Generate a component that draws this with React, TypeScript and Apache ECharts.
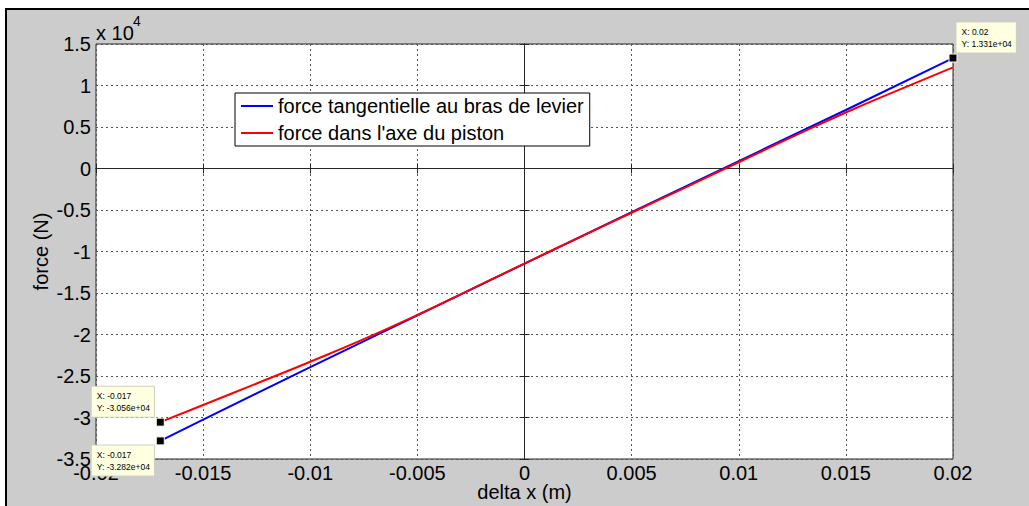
import React, { useEffect, useRef } from "react";
import * as echarts from "echarts";

const blueX = [-0.017, -0.015, -0.01, -0.005, 0, 0.005, 0.01, 0.015, 0.02];
const blueY = [-32820, -30250, -23920, -17700, -11470, -5250, 900, 7050, 13310];

const redX = [-0.017, -0.015, -0.0125, -0.01, -0.0075, -0.005, -0.0025, 0, 0.0025, 0.005, 0.0075, 0.01, 0.0125, 0.015, 0.0175, 0.02];
const redY = [-30560, -28490, -25900, -23280, -20560, -17650, -14560, -11450, -8380, -5330, -2300, 750, 3800, 6750, 9500, 12190];

const seriesNames = ["force tangentielle au bras de levier", "force dans l'axe du piston"];
const xTitle = "delta x (m)";
const yTitle = "force (N)";

const FONT = "Liberation Sans, Arial, sans-serif";

function tipLabel(text: string, position: number[]) {
  return {
    show: true,
    formatter: text,
    position,
    align: "left",
    verticalAlign: "top",
    backgroundColor: "#ffffe1",
    borderColor: "#d0d0c0",
    borderWidth: 1,
    padding: [4, 4, 3, 5],
    fontSize: 8.5,
    lineHeight: 11.5,
    fontFamily: FONT,
    color: "#000",
  };
}

export default function App() {
  const ref = useRef<HTMLDivElement>(null);
  useEffect(() => {
    if (!ref.current) return;
    const chart = echarts.init(ref.current, undefined, { renderer: "svg" });
    const fmtX = (v: number) => parseFloat(v.toFixed(4)).toString();
    const fmtY = (v: number) => parseFloat((v / 1e4).toFixed(2)).toString();
    const axisLine = { show: true, lineStyle: { color: "#262626", width: 1 } };
    const tick = { show: true, inside: true, length: 5, lineStyle: { color: "#262626" } };
    const grid = { show: true, lineStyle: { color: "#555", type: [2, 3], width: 1 } };
    const markerStyle = { color: "#000", borderColor: "#fffff0", borderWidth: 1 };
    chart.setOption({
      animation: false,
      backgroundColor: "#fff",
      textStyle: { fontFamily: FONT },
      graphic: [
        {
          type: "rect",
          z: -10,
          silent: true,
          shape: { x: 6, y: 9, width: 1040, height: 520 },
          style: { fill: "#cccccc", stroke: "#000", lineWidth: 2 },
        },
        {
          type: "text",
          left: 96,
          top: 23,
          style: { text: "x 10", font: "20px " + FONT, fill: "#000" },
        },
        {
          type: "text",
          left: 133,
          top: 14,
          style: { text: "4", font: "14px " + FONT, fill: "#000" },
        },
      ],
      grid: {
        left: 96,
        top: 44,
        width: 857,
        height: 415,
        outerBoundsMode: "none",
        containLabel: false,
        show: true,
        backgroundColor: "#fff",
        borderColor: "#262626",
        borderWidth: 1,
      },
      legend: {
        orient: "vertical",
        left: 235,
        top: 93,
        padding: [3, 6, 3, 6],
        itemGap: 7,
        itemWidth: 32,
        itemHeight: 2,
        icon: "rect",
        backgroundColor: "#fff",
        borderColor: "#000",
        borderWidth: 1,
        borderRadius: 0,
        textStyle: { fontSize: 20, color: "#000", fontFamily: FONT, lineHeight: 20 },
        data: seriesNames,
      },
      xAxis: [
        {
          type: "value",
          min: -0.02,
          max: 0.02,
          interval: 0.005,
          position: "bottom",
          name: xTitle,
          nameLocation: "middle",
          nameGap: 23,
          nameMoveOverlap: false,
          nameTextStyle: { fontSize: 20, color: "#000", fontFamily: FONT },
          axisLine,
          axisTick: tick,
          axisLabel: { fontSize: 20, color: "#000", margin: 4, formatter: fmtX, fontFamily: FONT },
          splitLine: grid,
        },
        {
          type: "value",
          min: -0.02,
          max: 0.02,
          interval: 0.005,
          position: "top",
          axisLine,
          axisTick: tick,
          axisLabel: { show: false },
          splitLine: { show: false },
        },
      ],
      yAxis: [
        {
          type: "value",
          min: -35000,
          max: 15000,
          interval: 5000,
          position: "left",
          name: yTitle,
          nameLocation: "middle",
          nameGap: 45,
          nameMoveOverlap: false,
          nameRotate: 90,
          nameTextStyle: { fontSize: 20, color: "#000", fontFamily: FONT },
          axisLine,
          axisTick: tick,
          axisLabel: { fontSize: 20, color: "#000", margin: 5, formatter: fmtY, fontFamily: FONT },
          splitLine: grid,
        },
        {
          type: "value",
          min: -35000,
          max: 15000,
          interval: 5000,
          position: "right",
          axisLine,
          axisTick: tick,
          axisLabel: { show: false },
          splitLine: { show: false },
        },
      ],
      series: [
        {
          name: seriesNames[0],
          type: "line",
          data: blueX.map((x, i) => [x, blueY[i]]),
          showSymbol: false,
          smooth: false,
          clip: false,
          lineStyle: { color: "#0000ff", width: 2 },
          itemStyle: { color: "#0000ff" },
          z: 2,
          markPoint: {
            symbol: "rect",
            symbolSize: 8,
            itemStyle: markerStyle,
            data: [
              {
                coord: [blueX[blueX.length - 1], blueY[blueY.length - 1]],
                label: tipLabel("X: 0.02\nY: 1.331e+04", [8, -31]),
              },
              {
                coord: [blueX[0], blueY[0]],
                label: tipLabel("X: -0.017\nY: -3.282e+04", [-64, 9]),
              },
            ],
          },
        },
        {
          name: seriesNames[1],
          type: "line",
          data: redX.map((x, i) => [x, redY[i]]),
          showSymbol: false,
          smooth: true,
          clip: false,
          lineStyle: { color: "#ff0000", width: 2 },
          itemStyle: { color: "#ff0000" },
          z: 3,
          markPoint: {
            symbol: "rect",
            symbolSize: 8,
            itemStyle: markerStyle,
            data: [
              {
                coord: [redX[0], redY[0]],
                label: tipLabel("X: -0.017\nY: -3.056e+04", [-64, -31]),
              },
            ],
          },
        },
      ],
    });
    return () => chart.dispose();
  }, []);
  return <div ref={ref} style={{ position: "absolute", left: 0, top: 0, width: 1029, height: 506 }} />;
}
